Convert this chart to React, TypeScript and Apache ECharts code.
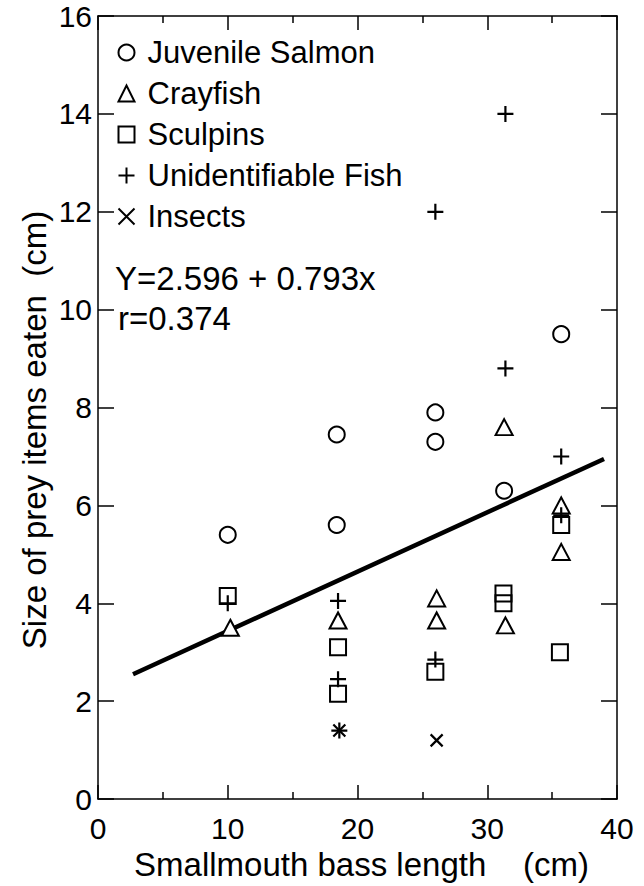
import React, { useEffect, useRef } from "react";
import * as echarts from "echarts";

// ---- data ----
const seriesNames = ["Juvenile Salmon", "Crayfish", "Sculpins", "Unidentifiable Fish", "Insects"];
const salmon: number[][] = [[10.0, 5.4], [18.4, 7.45], [18.4, 5.6], [26.0, 7.9], [26.0, 7.3], [31.3, 6.3], [35.7, 9.5]];
const crayfish: number[][] = [[10.2, 3.5], [18.5, 3.65], [26.1, 4.1], [26.1, 3.65], [31.4, 3.55], [31.3, 7.6], [35.7, 6.0], [35.7, 5.05]];
const sculpins: number[][] = [[10.0, 4.15], [18.5, 3.1], [18.5, 2.15], [26.0, 2.6], [31.25, 4.0], [31.25, 4.2], [35.7, 5.6], [35.6, 3.0]];
const unidentified: number[][] = [[10.0, 4.0], [18.5, 4.05], [18.5, 2.45], [18.6, 1.4], [26.0, 2.85], [26.0, 12.0], [31.4, 14.0], [31.4, 8.8], [35.7, 7.0], [35.7, 5.8]];
const insects: number[][] = [[18.6, 1.4], [26.1, 1.2]];
const fitLine: number[][] = [[2.7, 2.55], [39.0, 6.95]];
const equationText = "Y=2.596 + 0.793x";
const rText = "r=0.374";
const xTitle = "Smallmouth bass length    (cm)";
const yTitle = "Size of prey items eaten  (cm)";

const FONT = "'Liberation Sans', Arial, sans-serif";
const PLUS = "path://M0,8L16,8M8,0L8,16";
const CROSS = "path://M0,0L12,12M12,0L0,12";

export default function App() {
  const ref = useRef<HTMLDivElement>(null);
  useEffect(() => {
    if (!ref.current) return;
    const chart = echarts.init(ref.current, undefined, { renderer: "svg" });
    const axisLine = { show: true, onZero: false, lineStyle: { color: "#000", width: 1.5 } };
    const tickStyle = { color: "#000", width: 1.5 };
    const hollow = { color: "#fff", borderColor: "#000", borderWidth: 2, opacity: 1 };
    const stroke = { color: "none", borderColor: "#000", borderWidth: 2.2, opacity: 1 };
    const xBase = {
      type: "value", min: 0, max: 40, interval: 10,
      axisLine, splitLine: { show: false },
      axisTick: { show: true, inside: true, length: 14, lineStyle: tickStyle },
      minorTick: { show: true, splitNumber: 2, length: 7, lineStyle: tickStyle },
      minorSplitLine: { show: false },
    };
    const yBase = {
      type: "value", min: 0, max: 16, interval: 2,
      axisLine, splitLine: { show: false },
      axisTick: { show: true, inside: true, length: 16, lineStyle: tickStyle },
    };
    chart.setOption({
      animation: false,
      backgroundColor: "#fff",
      grid: { left: 98, right: 27, top: 16, bottom: 72 },
      legend: {
        orient: "vertical", left: 116, top: 37, padding: 0,
        itemWidth: 16, itemHeight: 16, itemGap: 10,
        textStyle: { color: "#000", fontSize: 31, fontFamily: FONT, padding: [0, 0, 0, 8] },
        data: seriesNames,
      },
      xAxis: [
        {
          ...xBase, position: "bottom",
          axisLabel: { color: "#000", fontSize: 30, fontFamily: FONT, margin: 14 },
          name: xTitle, nameLocation: "middle", nameGap: 38,
          nameTextStyle: { color: "#000", fontSize: 33, fontFamily: FONT, padding: [0, 0, 0, 8] },
        },
        { ...xBase, position: "top", axisLabel: { show: false } },
      ],
      yAxis: [
        {
          ...yBase, position: "left",
          axisLabel: { color: "#000", fontSize: 30, fontFamily: FONT, margin: 6 },
        },
        { ...yBase, position: "right", axisLabel: { show: false } },
      ],
      graphic: [
        { type: "text", left: 115, top: 262, style: { text: equationText, fill: "#000", font: `33px ${FONT}` } },
        { type: "text", left: 118, top: 302, style: { text: rText, fill: "#000", font: `33px ${FONT}` } },
        {
          type: "text", x: 34, y: 430, rotation: Math.PI / 2,
          style: { text: yTitle, fill: "#000", font: `33px ${FONT}`, align: "center", verticalAlign: "middle" },
        },
      ],
      series: [
        { name: "Regression", type: "line", data: fitLine, symbol: "none", lineStyle: { color: "#000", width: 4.5 }, silent: true, z: 1 },
        { name: seriesNames[0], type: "scatter", data: salmon, symbol: "circle", symbolSize: 16, itemStyle: hollow, z: 3 },
        { name: seriesNames[1], type: "scatter", data: crayfish, symbol: "triangle", symbolSize: [17, 16], itemStyle: hollow, z: 3 },
        { name: seriesNames[2], type: "scatter", data: sculpins, symbol: "rect", symbolSize: 16, itemStyle: { ...hollow, color: "none" }, z: 3 },
        { name: seriesNames[3], type: "scatter", data: unidentified, symbol: PLUS, symbolSize: 16, itemStyle: stroke, z: 4 },
        { name: seriesNames[4], type: "scatter", data: insects, symbol: CROSS, symbolSize: 12, itemStyle: stroke, z: 4 },
      ],
    });
    return () => chart.dispose();
  }, []);
  return <div ref={ref} style={{ width: 644, height: 886, position: "absolute", left: 0, top: 0 }} />;
}
